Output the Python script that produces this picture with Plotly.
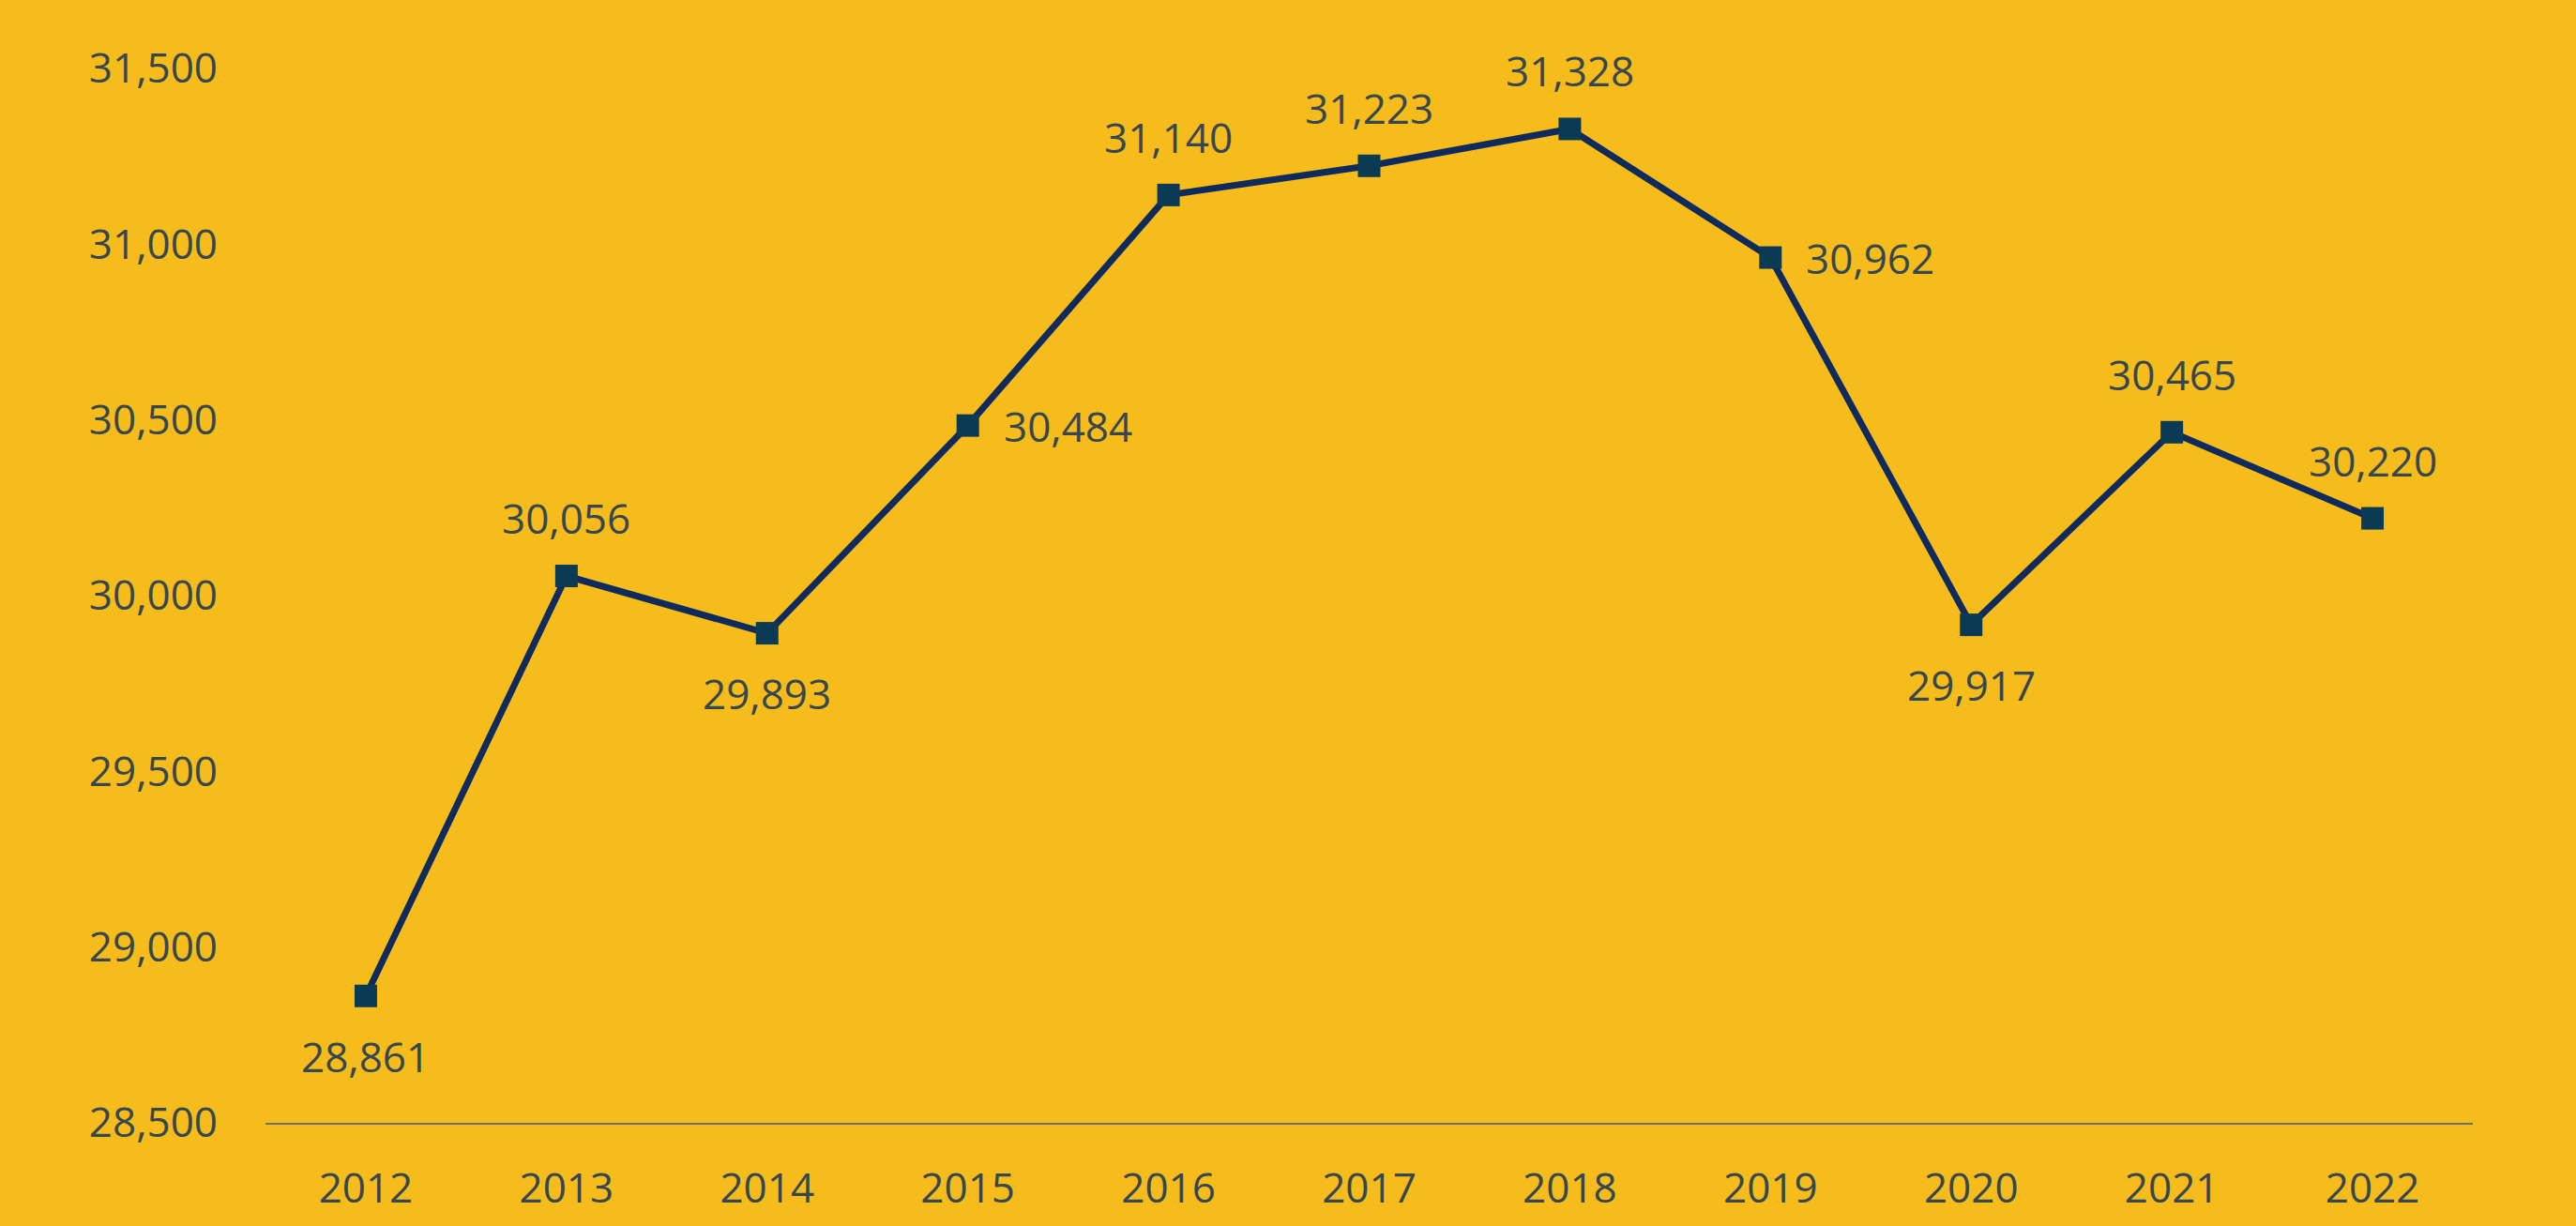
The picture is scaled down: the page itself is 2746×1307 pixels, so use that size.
import plotly.graph_objects as go

years = ["2012", "2013", "2014", "2015", "2016", "2017", "2018", "2019", "2020", "2021", "2022"]
values = [28861, 30056, 29893, 30484, 31140, 31223, 31328, 30962, 29917, 30465, 30220]
label_pos = ["below", "above", "below", "right", "above", "above", "above", "right", "below", "above", "above"]
y_ticks = [28500, 29000, 29500, 30000, 30500, 31000, 31500]

BG = "#F6BC1B"
TEXT = "#37474F"
LINE = "#0F2A5C"
MARK = "#0B3A55"
FONT = "Open Sans"

fig = go.Figure()
fig.add_trace(go.Scatter(
    x=years, y=values, mode="lines+markers",
    line=dict(color=LINE, width=7),
    marker=dict(symbol="square", size=24, color=MARK),
    hoverinfo="x+y", showlegend=False,
))

for i, (v, p) in enumerate(zip(values, label_pos)):
    kw = dict(x=i, y=v, xref="x", yref="y", text=f"{v:,}", showarrow=False,
              font=dict(family=FONT, size=44, color=TEXT))
    if p == "below":
        kw.update(yshift=-64, xanchor="center", yanchor="middle")
    elif p == "above":
        kw.update(yshift=62, xanchor="center", yanchor="middle")
    else:
        kw.update(xshift=36, xanchor="left", yanchor="middle")
    fig.add_annotation(**kw)

fig.update_layout(
    width=2746, height=1307,
    paper_bgcolor=BG, plot_bgcolor=BG,
    margin=dict(l=283, r=110, t=73, b=106),
    font=dict(family=FONT, size=44, color=TEXT),
    xaxis=dict(
        type="category", range=[-0.5, 10.5],
        showgrid=False, zeroline=False,
        showline=True, linecolor="#6B7170", linewidth=2,
        ticks="", ticklabelstandoff=30,
        tickfont=dict(family=FONT, size=44, color=TEXT),
    ),
    yaxis=dict(
        range=[28500, 31500], tickvals=y_ticks,
        ticktext=[f"{t:,}" for t in y_ticks],
        showgrid=False, zeroline=False, showline=False,
        ticks="", ticklabelstandoff=50,
        tickfont=dict(family=FONT, size=44, color=TEXT),
    ),
)

fig.write_html(
    "out.html",
    config={"displayModeBar": False},
    post_script="document.body.style.margin='0';document.body.style.overflow='hidden';document.body.style.background='" + BG + "';",
)
